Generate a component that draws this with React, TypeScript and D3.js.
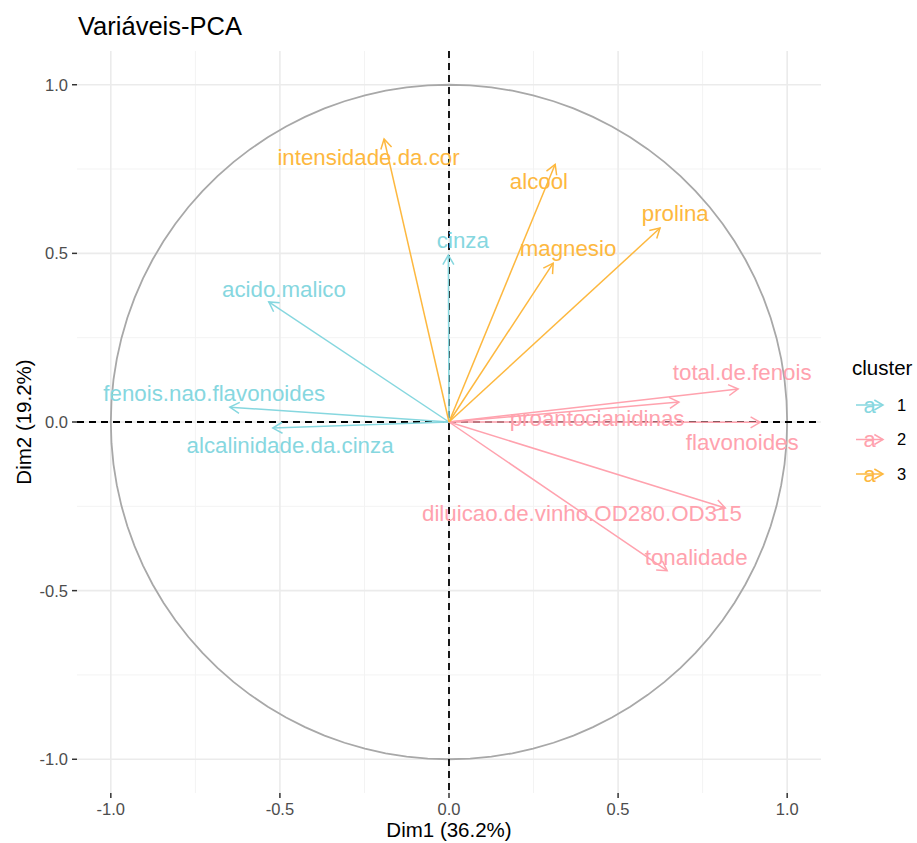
import React from "react";
import * as d3 from "d3";

// Variable loadings on the first two principal components
const variables = [
  "alcool",
  "acido.malico",
  "cinza",
  "alcalinidade.da.cinza",
  "magnesio",
  "total.de.fenois",
  "flavonoides",
  "fenois.nao.flavonoides",
  "proantocianidinas",
  "intensidade.da.cor",
  "tonalidade",
  "diluicao.de.vinho.OD280.OD315",
  "prolina",
];
const dim1 = [0.314, -0.533, -0.002, -0.521, 0.308, 0.855, 0.92, -0.648, 0.68, -0.192, 0.645, 0.817, 0.624];
const dim2 = [0.764, 0.356, 0.495, -0.018, 0.471, 0.098, -0.001, 0.044, 0.059, 0.839, -0.441, -0.255, 0.575];
const cluster = ["3", "1", "1", "1", "3", "2", "2", "1", "2", "3", "2", "2", "3"];
// Label anchor positions (in Dim1/Dim2 units)
const labelDim1 = [0.266, -0.488, 0.041, -0.47, 0.352, 0.867, 0.867, -0.694, 0.438, -0.238, 0.731, 0.393, 0.669];
const labelDim2 = [0.714, 0.394, 0.539, -0.068, 0.516, 0.148, -0.059, 0.086, 0.012, 0.785, -0.4, -0.27, 0.619];

const clusters = ["1", "2", "3"];
const clusterColors = ["#86D7DF", "#FFA2AE", "#FDB83F"];

const majorTicks = [-1, -0.5, 0, 0.5, 1];
const minorTicks = [-0.75, -0.25, 0.25, 0.75];

const W = 917;
const H = 843;
const FONT = "'Liberation Sans', Arial, Helvetica, sans-serif";

// one decimal, plain hyphen for negatives
const fmt = (v: number) => d3.format(".1f")(v).replace("\u2212", "-");

export default function App() {
  const x = d3.scaleLinear().domain([-1.1, 1.1]).range([77, 821]);
  const y = d3.scaleLinear().domain([-1.1, 1.1]).range([793, 51]);
  const color = d3.scaleOrdinal<string, string>().domain(clusters).range(clusterColors);

  const circlePts = d3.range(0, 101).map((i) => {
    const t = (i / 100) * 2 * Math.PI;
    return [Math.cos(t), Math.sin(t)] as [number, number];
  });
  const circlePath = d3
    .line<[number, number]>()
    .x((d) => x(d[0]))
    .y((d) => y(d[1]))(circlePts);

  const arrowHead = (x1: number, y1: number, x2: number, y2: number, len = 11) => {
    const a = Math.atan2(y2 - y1, x2 - x1);
    const sp = Math.PI / 6;
    const ax = x2 - len * Math.cos(a - sp);
    const ay = y2 - len * Math.sin(a - sp);
    const bx = x2 - len * Math.cos(a + sp);
    const by = y2 - len * Math.sin(a + sp);
    return `M${ax},${ay}L${x2},${y2}L${bx},${by}`;
  };

  return (
    <svg
      width={W}
      height={H}
      style={{ position: "absolute", left: 0, top: 0, background: "#fff" }}
      fontFamily={FONT}
    >
      {/* grid */}
      {minorTicks.map((t) => (
        <g key={"mn" + t}>
          <line x1={x(t)} x2={x(t)} y1={y(1.1)} y2={y(-1.1)} stroke="#F3F3F3" strokeWidth={1} />
          <line x1={x(-1.1)} x2={x(1.1)} y1={y(t)} y2={y(t)} stroke="#F3F3F3" strokeWidth={1} />
        </g>
      ))}
      {majorTicks.map((t) => (
        <g key={"mj" + t}>
          <line x1={x(t)} x2={x(t)} y1={y(1.1)} y2={y(-1.1)} stroke="#EBEBEB" strokeWidth={1.6} />
          <line x1={x(-1.1)} x2={x(1.1)} y1={y(t)} y2={y(t)} stroke="#EBEBEB" strokeWidth={1.6} />
        </g>
      ))}

      {/* correlation circle */}
      <path d={circlePath ?? ""} fill="none" stroke="#A8A8A8" strokeWidth={1.8} />

      {/* reference lines */}
      <line x1={x(-1.1)} x2={x(1.1)} y1={y(0)} y2={y(0)} stroke="#000" strokeWidth={1.8} strokeDasharray="7,5" />
      <line x1={x(0)} x2={x(0)} y1={y(1.1)} y2={y(-1.1)} stroke="#000" strokeWidth={1.8} strokeDasharray="7,5" />

      {/* arrows */}
      {variables.map((v, i) => {
        const c = color(cluster[i]);
        const x1 = x(0), y1 = y(0), x2 = x(dim1[i]), y2 = y(dim2[i]);
        return (
          <g key={"a" + v} stroke={c} strokeWidth={1.5} fill="none">
            <line x1={x1} y1={y1} x2={x2} y2={y2} />
            <path d={arrowHead(x1, y1, x2, y2)} />
          </g>
        );
      })}

      {/* labels */}
      {variables.map((v, i) => (
        <text
          key={"l" + v}
          x={x(labelDim1[i])}
          y={y(labelDim2[i])}
          dy="0.35em"
          textAnchor="middle"
          fontSize={22.3}
          fill={color(cluster[i])}
        >
          {v}
        </text>
      ))}

      {/* y axis */}
      {majorTicks.map((t) => (
        <g key={"yt" + t}>
          <line x1={72} x2={77} y1={y(t)} y2={y(t)} stroke="#333" strokeWidth={1.5} />
          <text x={68} y={y(t)} dy="0.36em" textAnchor="end" fontSize={16.5} fill="#4D4D4D">
            {fmt(t)}
          </text>
        </g>
      ))}
      {/* x axis */}
      {majorTicks.map((t) => (
        <g key={"xt" + t}>
          <line x1={x(t)} x2={x(t)} y1={793} y2={798} stroke="#333" strokeWidth={1.5} />
          <text x={x(t)} y={815} textAnchor="middle" fontSize={16.5} fill="#4D4D4D">
            {fmt(t)}
          </text>
        </g>
      ))}

      <text x={x(0)} y={837} textAnchor="middle" fontSize={20.5} fill="#000">
        Dim1 (36.2%)
      </text>
      <text
        transform={`translate(31,${y(0)}) rotate(-90)`}
        textAnchor="middle"
        fontSize={20.5}
        fill="#000"
      >
        Dim2 (19.2%)
      </text>

      <text x={78} y={35} fontSize={25.5} fill="#000">
        Variáveis-PCA
      </text>

      {/* legend */}
      <text x={852} y={375} fontSize={20.5} fill="#000">
        cluster
      </text>
      {clusters.map((k, i) => {
        const cy = 405 + i * 34.5;
        const c = color(k);
        return (
          <g key={"lg" + k}>
            <line x1={856} x2={883} y1={cy} y2={cy} stroke={c} strokeWidth={1.5} />
            <path d={arrowHead(856, cy, 883, cy, 10)} stroke={c} strokeWidth={1.5} fill="none" />
            <text x={869.5} y={cy} dy="0.35em" textAnchor="middle" fontSize={22} fill={c}>
              a
            </text>
            <text x={897} y={cy} dy="0.36em" fontSize={16.5} fill="#000">
              {k}
            </text>
          </g>
        );
      })}
    </svg>
  );
}
